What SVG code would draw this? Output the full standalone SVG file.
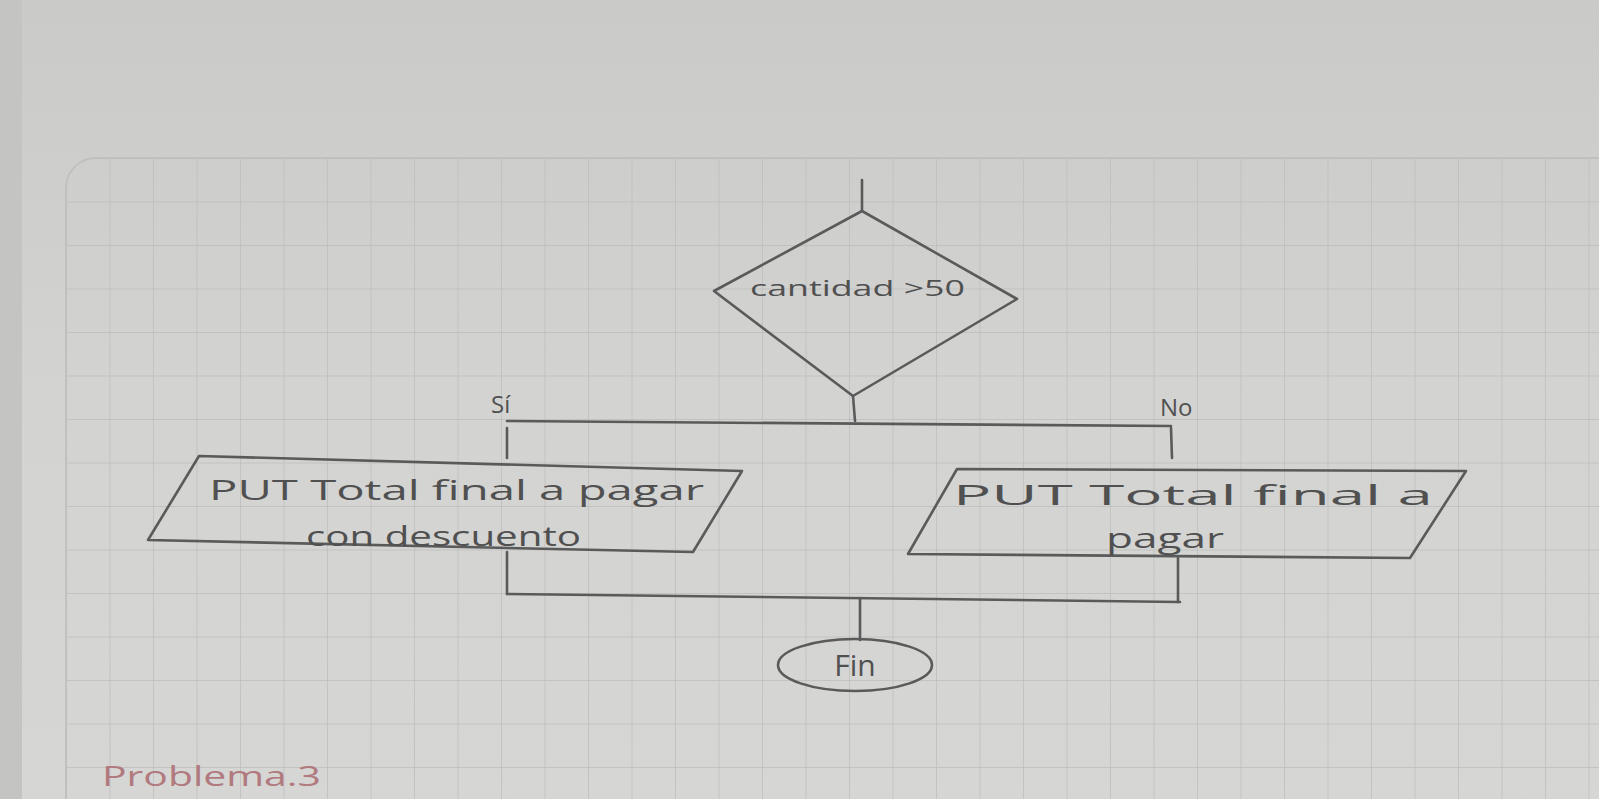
<svg xmlns="http://www.w3.org/2000/svg" width="1599" height="799" viewBox="0 0 1599 799">
<defs>
<pattern id="grid" width="43.5" height="43.5" patternUnits="userSpaceOnUse" x="66" y="158">
<path d="M0 0 H43.5 M0 0 V43.5" fill="none" stroke="#bdbdbc" stroke-width="1.5"/>
</pattern>
<linearGradient id="paper" x1="0" y1="0" x2="0" y2="1">
<stop offset="0" stop-color="#cacac9"/>
<stop offset="0.5" stop-color="#d3d3d2"/>
<stop offset="1" stop-color="#d6d6d5"/>
</linearGradient>
</defs>
<style>
.shape{fill:none;stroke:#5a5a5a;stroke-width:2.6;stroke-linejoin:round;stroke-linecap:round}
.ln{fill:none;stroke:#5a5a5a;stroke-width:2.6;stroke-linecap:round}
.t{font-family:"Open Sans","Liberation Sans",sans-serif;fill:#505050}
</style>
<rect x="0" y="0" width="1599" height="799" fill="url(#paper)"/>
<rect x="0" y="0" width="22" height="799" fill="#c4c4c3"/>
<rect x="66" y="158" width="1560" height="700" rx="30" fill="url(#grid)" stroke="#bdbdbc" stroke-width="1.5"/>

<g id="connectors">
<line class="ln" x1="862" y1="180" x2="862" y2="211"/>
<line class="ln" x1="853" y1="396" x2="855" y2="421"/>
<line class="ln" x1="507" y1="421" x2="1171" y2="426"/>
<line class="ln" x1="507" y1="428" x2="507" y2="458"/>
<line class="ln" x1="1171" y1="428" x2="1172" y2="458"/>
<line class="ln" x1="507" y1="552" x2="507" y2="594"/>
<line class="ln" x1="1178" y1="558" x2="1178" y2="602"/>
<line class="ln" x1="507" y1="594" x2="1180" y2="602"/>
<line class="ln" x1="860" y1="598" x2="860" y2="640"/>
<text class="t" x="491" y="413" font-size="24">Sí</text>
<text class="t" x="1160" y="416" font-size="24">No</text>
</g>

<g id="decision">
<polygon class="shape" points="862,211 1017,299 853,396 714,291"/>
<text class="t" x="750" y="296" font-size="22" textLength="215" lengthAdjust="spacingAndGlyphs">cantidad &gt;50</text>
</g>

<g id="output-si">
<polygon class="shape" points="199,456 742,471 693,552 148,540"/>
<text class="t" x="209" y="500" font-size="28" textLength="495" lengthAdjust="spacingAndGlyphs">PUT Total final a pagar</text>
<text class="t" x="306" y="546" font-size="28" textLength="275" lengthAdjust="spacingAndGlyphs">con descuento</text>
</g>

<g id="output-no">
<polygon class="shape" points="957,469 1466,471 1410,558 908,554"/>
<text class="t" x="953" y="505" font-size="27" textLength="480" lengthAdjust="spacingAndGlyphs">PUT Total final a</text>
<text class="t" x="1106" y="548" font-size="27" textLength="118" lengthAdjust="spacingAndGlyphs">pagar</text>
</g>

<g id="fin">
<ellipse class="shape" cx="855" cy="665" rx="77" ry="26"/>
<text class="t" x="855" y="676" font-size="30" text-anchor="middle">Fin</text>
</g>

<text x="102" y="786" font-family="Open Sans, Liberation Sans, sans-serif" font-size="28" fill="#b07a7e" textLength="219" lengthAdjust="spacingAndGlyphs">Problema.3</text>
</svg>
